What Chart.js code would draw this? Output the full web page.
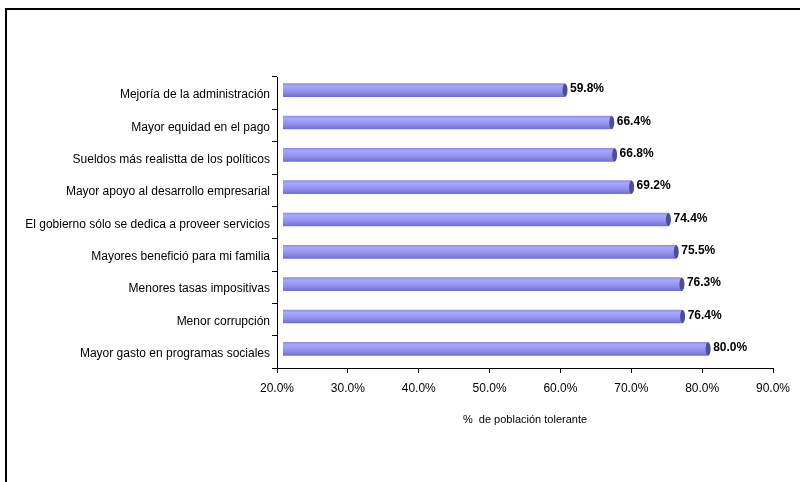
<!DOCTYPE html>
<html>
<head>
<meta charset="utf-8">
<script src="https://cdn.jsdelivr.net/npm/chart.js@4.4.1/dist/chart.umd.min.js"></script>
<style>
  html, body { margin: 0; padding: 0; background: #fff; }
  #wrap { position: relative; width: 800px; height: 482px; overflow: hidden; }
  #frame { position: absolute; left: 5px; top: 8px; width: 900px; height: 600px;
           border-left: 2px solid #000; border-top: 2px solid #000; }
  canvas { position: absolute; left: 0; top: 0; }
</style>
</head>
<body>
<div id="wrap">
  <div id="frame"></div>
  <canvas id="chart" width="800" height="482"></canvas>
</div>
<script>
  // chart data
  const categories = [
    'Mejoría de la administración',
    'Mayor equidad en el pago',
    'Sueldos más realistta de los políticos',
    'Mayor apoyo al desarrollo empresarial',
    'El gobierno sólo se dedica a proveer servicios',
    'Mayores benefició para mi familia',
    'Menores tasas impositivas',
    'Menor corrupción',
    'Mayor gasto en programas sociales'
  ];
  const tolerance = [59.8, 66.4, 66.8, 69.2, 74.4, 75.5, 76.3, 76.4, 80.0];
  const xTicks = [20, 30, 40, 50, 60, 70, 80, 90];
  const axisTitle = '%  de población tolerante';

  const FONT = '"Liberation Sans", Arial, sans-serif';

  // small 3D depth offset like the spreadsheet cylinders
  const DEPTH_X = 6, DEPTH_Y = -3;

  const cylinderPlugin = {
    id: 'cylinder',
    beforeDatasetsDraw(chart) {
      chart.ctx.save();
      chart.ctx.translate(DEPTH_X, DEPTH_Y);
    },
    afterDatasetsDraw(chart) {
      const ctx = chart.ctx;
      const meta = chart.getDatasetMeta(0);
      meta.data.forEach(bar => {
        // dark end cap
        ctx.beginPath();
        ctx.ellipse(bar.x, bar.y, 2.5, bar.height / 2, 0, 0, Math.PI * 2);
        ctx.fillStyle = '#4e4e92';
        ctx.fill();
      });
      // value labels
      ctx.font = 'bold 12px ' + FONT;
      ctx.fillStyle = '#000';
      ctx.textAlign = 'left';
      ctx.textBaseline = 'middle';
      meta.data.forEach((bar, i) => {
        ctx.fillText(tolerance[i].toFixed(1) + '%', bar.x + 5, bar.y - 1);
      });
      ctx.restore();
    }
  };

  function barGradient(context) {
    const chart = context.chart;
    const y = chart.scales.y ? chart.scales.y.getPixelForValue(context.dataIndex) : NaN;
    if (!isFinite(y)) return '#9494f2';
    const g = chart.ctx.createLinearGradient(0, y - 6.5, 0, y + 6.5);
    g.addColorStop(0, '#8e8ee8');
    g.addColorStop(0.2, '#a8a8ff');
    g.addColorStop(0.45, '#9a9afa');
    g.addColorStop(0.75, '#8888e2');
    g.addColorStop(1, '#7070c6');
    return g;
  }

  new Chart(document.getElementById('chart'), {
    type: 'bar',
    data: {
      labels: categories,
      datasets: [{
        data: tolerance,
        backgroundColor: barGradient,
        borderWidth: 0,
        borderSkipped: false,
        borderRadius: { topLeft: 3, bottomLeft: 3, topRight: 0, bottomRight: 0 },
        barThickness: 13
      }]
    },
    options: {
      indexAxis: 'y',
      responsive: false,
      animation: false,
      devicePixelRatio: 1,
      layout: { padding: { left: 0, top: 77, right: 27, bottom: 54 } },
      plugins: {
        legend: { display: false },
        tooltip: { enabled: false }
      },
      scales: {
        x: {
          min: 20,
          max: 90,
          afterBuildTicks(scale) {
            scale.ticks = xTicks.map(v => ({ value: v }));
          },
          afterFit(scale) { scale.height = 60; },
          border: { display: true, color: '#000', width: 1 },
          grid: { drawOnChartArea: false, tickLength: 5, color: '#000' },
          ticks: {
            padding: 8,
            color: '#000',
            font: { family: FONT, size: 12 },
            callback: v => v.toFixed(1) + '%'
          },
          title: {
            display: true,
            text: axisTitle,
            color: '#000',
            padding: { top: 0, bottom: 1 },
            font: { family: FONT, size: 11 }
          }
        },
        y: {
          afterFit(scale) { scale.width = 277; },
          border: { display: true, color: '#000', width: 1 },
          grid: { offset: true, drawOnChartArea: false, tickLength: 5, color: '#000' },
          ticks: {
            padding: 2,
            labelOffset: 2,
            color: '#000',
            font: { family: FONT, size: 12 }
          }
        }
      }
    },
    plugins: [cylinderPlugin]
  });
</script>
</body>
</html>
